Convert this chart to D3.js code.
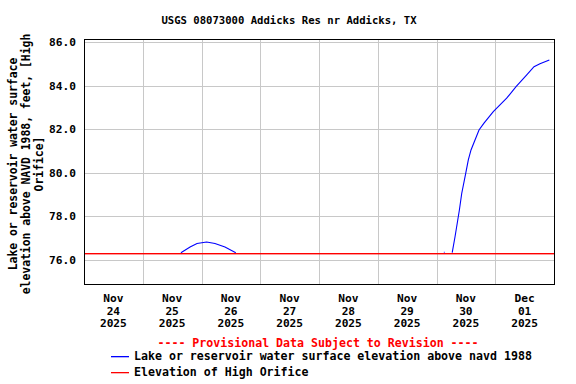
<!DOCTYPE html>
<html><head><meta charset="utf-8">
<script src="https://cdn.jsdelivr.net/npm/d3@7"></script>
<style>
html,body{margin:0;padding:0;background:#fff;}
text{font-family:"DejaVu Sans Mono",monospace;font-weight:bold;}
</style></head>
<body><svg id="c" width="576" height="384"></svg>
<script>
const title = "USGS 08073000 Addicks Res nr Addicks, TX";
const yLabelLines = ["Lake or reservoir water surface","elevation above NAVD 1988, feet, [High","Orifice]"];
const seriesNames = ["Lake or reservoir water surface elevation above navd 1988","Elevation of High Orifice"];
const provisional = "---- Provisional Data Subject to Revision ----";

// blue series (null = gap)
const times = [
 "2025-11-25T15:35","2025-11-25T19:20","2025-11-25T22:10","2025-11-26T02:05","2025-11-26T05:30","2025-11-26T09:35","2025-11-26T14:00",
 "2025-11-27T00:00",
 "2025-11-30T03:00","2025-11-30T03:20",
 "2025-11-30T05:00",
 "2025-11-30T06:25","2025-11-30T07:33","2025-11-30T08:40","2025-11-30T09:20","2025-11-30T10:18","2025-11-30T11:56","2025-11-30T13:00",
 "2025-11-30T14:06","2025-11-30T15:44","2025-11-30T17:22","2025-11-30T19:24","2025-11-30T23:12","2025-12-01T04:40","2025-12-01T08:30",
 "2025-12-01T12:52","2025-12-01T15:50","2025-12-01T18:16","2025-12-01T22:06"];
const values = [
 76.32,76.58,76.74,76.81,76.74,76.58,76.32,
 null,
 76.34,76.34,
 null,
 76.32,77.04,77.81,78.27,79.04,79.96,80.58,
 81.04,81.50,81.96,82.27,82.80,83.42,83.95,
 84.49,84.87,85.00,85.18];
const highOrifice = 76.32;

const yTicks = [76,78,80,82,84,86];
const xGridDays = ["2025-11-25","2025-11-26","2025-11-27","2025-11-28","2025-11-29","2025-11-30","2025-12-01"];
const xLabelDays = ["2025-11-24","2025-11-25","2025-11-26","2025-11-27","2025-11-28","2025-11-29","2025-11-30","2025-12-01"];
const xDomain = ["2025-11-24T00:00","2025-12-02T00:00"];
const yDomain = [74.88, 86.14];

const P = s => new Date(s.length===10 ? s+"T00:00Z" : s+"Z");
const L=84, R=554, T=39, B=284;
const svg = d3.select("#c");
const x = d3.scaleUtc().domain(xDomain.map(P)).range([L,R]);
const y = d3.scaleLinear().domain(yDomain).range([B,T]);

// title
svg.append("text").attr("x",289).attr("y",24).attr("text-anchor","middle")
  .style("font-size","10.6px").text(title);

// gridlines
const g = svg.append("g").attr("shape-rendering","crispEdges");
g.selectAll(".hg").data(yTicks).join("line")
  .attr("x1",L).attr("x2",R).attr("y1",d=>Math.round(y(d))+0.5).attr("y2",d=>Math.round(y(d))+0.5)
  .attr("stroke","#c8c8c8").attr("stroke-width",1);
g.selectAll(".vg").data(xGridDays.map(P)).join("line")
  .attr("y1",T).attr("y2",B).attr("x1",d=>Math.round(x(d))+0.5).attr("x2",d=>Math.round(x(d))+0.5)
  .attr("stroke","#c8c8c8").attr("stroke-width",1);

// y tick labels
svg.selectAll(".yl").data(yTicks).join("text")
  .attr("x",76).attr("y",d=>y(d)+4).attr("text-anchor","end")
  .style("font-size","11.2px").text(d=>d3.format(".1f")(d));

// x tick labels
const xl = svg.selectAll(".xl").data(xLabelDays.map(s=>d3.utcHour.offset(P(s),12))).join("text")
  .attr("text-anchor","middle").style("font-size","11.2px");
xl.each(function(d){
  const t=d3.select(this);
  [d3.utcFormat("%b")(d),d3.utcFormat("%d")(d),d3.utcFormat("%Y")(d)].forEach((s,i)=>{
    t.append("tspan").attr("x",x(d)).attr("y",302+i*12.5).text(s);
  });
});

// y axis label
const yl = svg.append("text").attr("transform","translate(0,164) rotate(-90)")
  .attr("text-anchor","middle").style("font-size","11.4px");
yLabelLines.forEach((s,i)=>yl.append("tspan").attr("x",0).attr("y",17+i*12.8).text(s));

// red line
svg.append("rect").attr("x",L).attr("width",R-L)
  .attr("y",Math.round(y(highOrifice))).attr("height",1.4)
  .attr("fill","#ff0000");

// blue series
const data = times.map((t,i)=>({t:P(t),v:values[i]}));
svg.append("path").datum(data)
  .attr("d",d3.line().defined(d=>d.v!==null).x(d=>x(d.t)).y(d=>y(d.v)))
  .attr("fill","none").attr("stroke","#0000ff").attr("stroke-width",1.1);

// border
svg.append("rect").attr("x",L+0.5).attr("y",T+0.5).attr("width",R-L).attr("height",B-T)
  .attr("fill","none").attr("stroke","#000").attr("stroke-width",1).attr("shape-rendering","crispEdges");

// legend
svg.append("text").attr("x",318).attr("y",347).attr("text-anchor","middle")
  .attr("fill","#ff0000").style("font-size","11.6px").text(provisional);
const legColors = ["#0000ff","#ff0000"];
seriesNames.forEach((s,i)=>{
  const yy = 356 + i*16;
  svg.append("rect").attr("x",111).attr("width",18).attr("y",yy).attr("height",1.3)
    .attr("fill",legColors[i]);
  svg.append("text").attr("x",134).attr("y",yy+4).style("font-size","11.6px").text(s);
});
</script></body></html>
